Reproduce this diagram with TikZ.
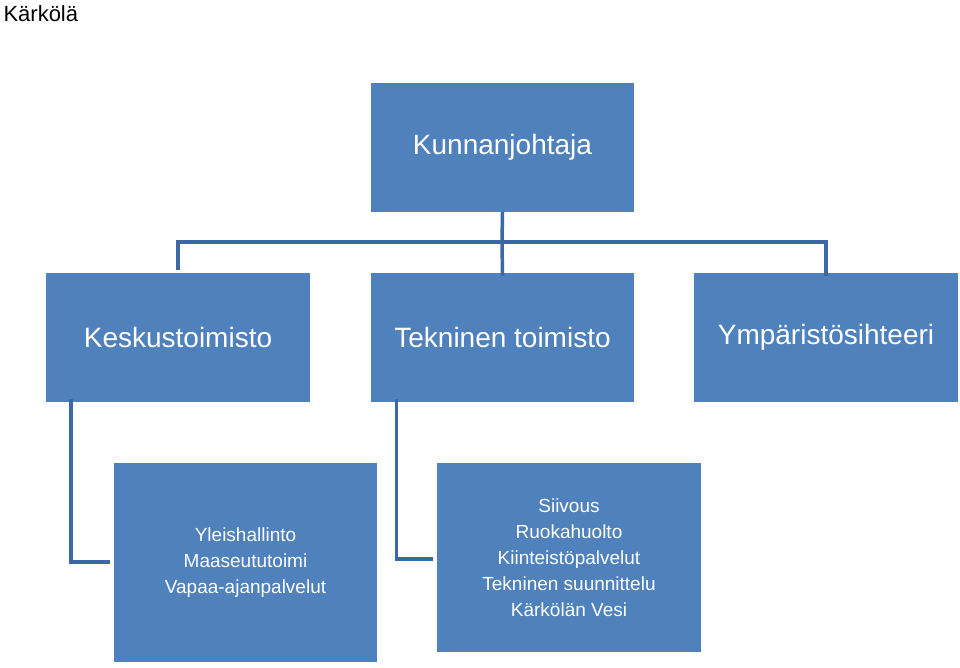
\documentclass[tikz,border=0pt]{standalone}
\usepackage{fontspec}
\setmainfont{Liberation Sans}
\begin{document}
\begin{tikzpicture}[x=1pt,y=-1pt,
  box/.style={fill=boxblue,draw=none,inner sep=0pt,text=white,align=center},
  big/.style={font=\fontsize{28}{30}\selectfont},
  small/.style={font=\fontsize{19}{26}\selectfont},
  conn/.style={draw=lineblue,line width=3.5pt}]
\definecolor{boxblue}{HTML}{4F81BD}
\definecolor{lineblue}{HTML}{3D68A8}
\useasboundingbox (0,0) rectangle (960,667);
\node[anchor=north west,font=\fontsize{22}{24}\selectfont] (title) at (0,2) {Kärkölä};
\node[box,big,minimum width=263,minimum height=129] (kj) at (502.5,147.5) {Kunnanjohtaja};
\node[box,big,minimum width=264,minimum height=129] (ke) at (178,337.5) {Keskustoimisto};
\node[box,big,minimum width=263,minimum height=129] (te) at (502.5,337.5) {Tekninen toimisto};
\node[box,big,minimum width=264,minimum height=129] (ym) at (826,337.5) {Ympäristösihteeri};
\node[box,small,minimum width=263,minimum height=199] (yl) at (245.5,562.5) {Yleishallinto\\Maaseututoimi\\Vapaa-ajanpalvelut};
\node[box,small,minimum width=264,minimum height=189] (si) at (569,557.5) {Siivous\\Ruokahuolto\\Kiinteistöpalvelut\\Tekninen suunnittelu\\Kärkölän Vesi};
\coordinate (j) at (502,242);
\draw[conn] (kj.south) -- (j);
\draw[conn] (ke.north) ++(0,-3) |- (j) -| ([yshift=-3]ym.north);
\draw[conn] (j) -- ([yshift=-3]te.north);
\draw[conn] ([xshift=-107,yshift=3]ke.south) |- ([xshift=-4,yshift=0.5]yl.west);
\draw[conn] ([xshift=-106,yshift=3]te.south) |- ([xshift=-4,yshift=-1.5]si.west);
\end{tikzpicture}
\end{document}
